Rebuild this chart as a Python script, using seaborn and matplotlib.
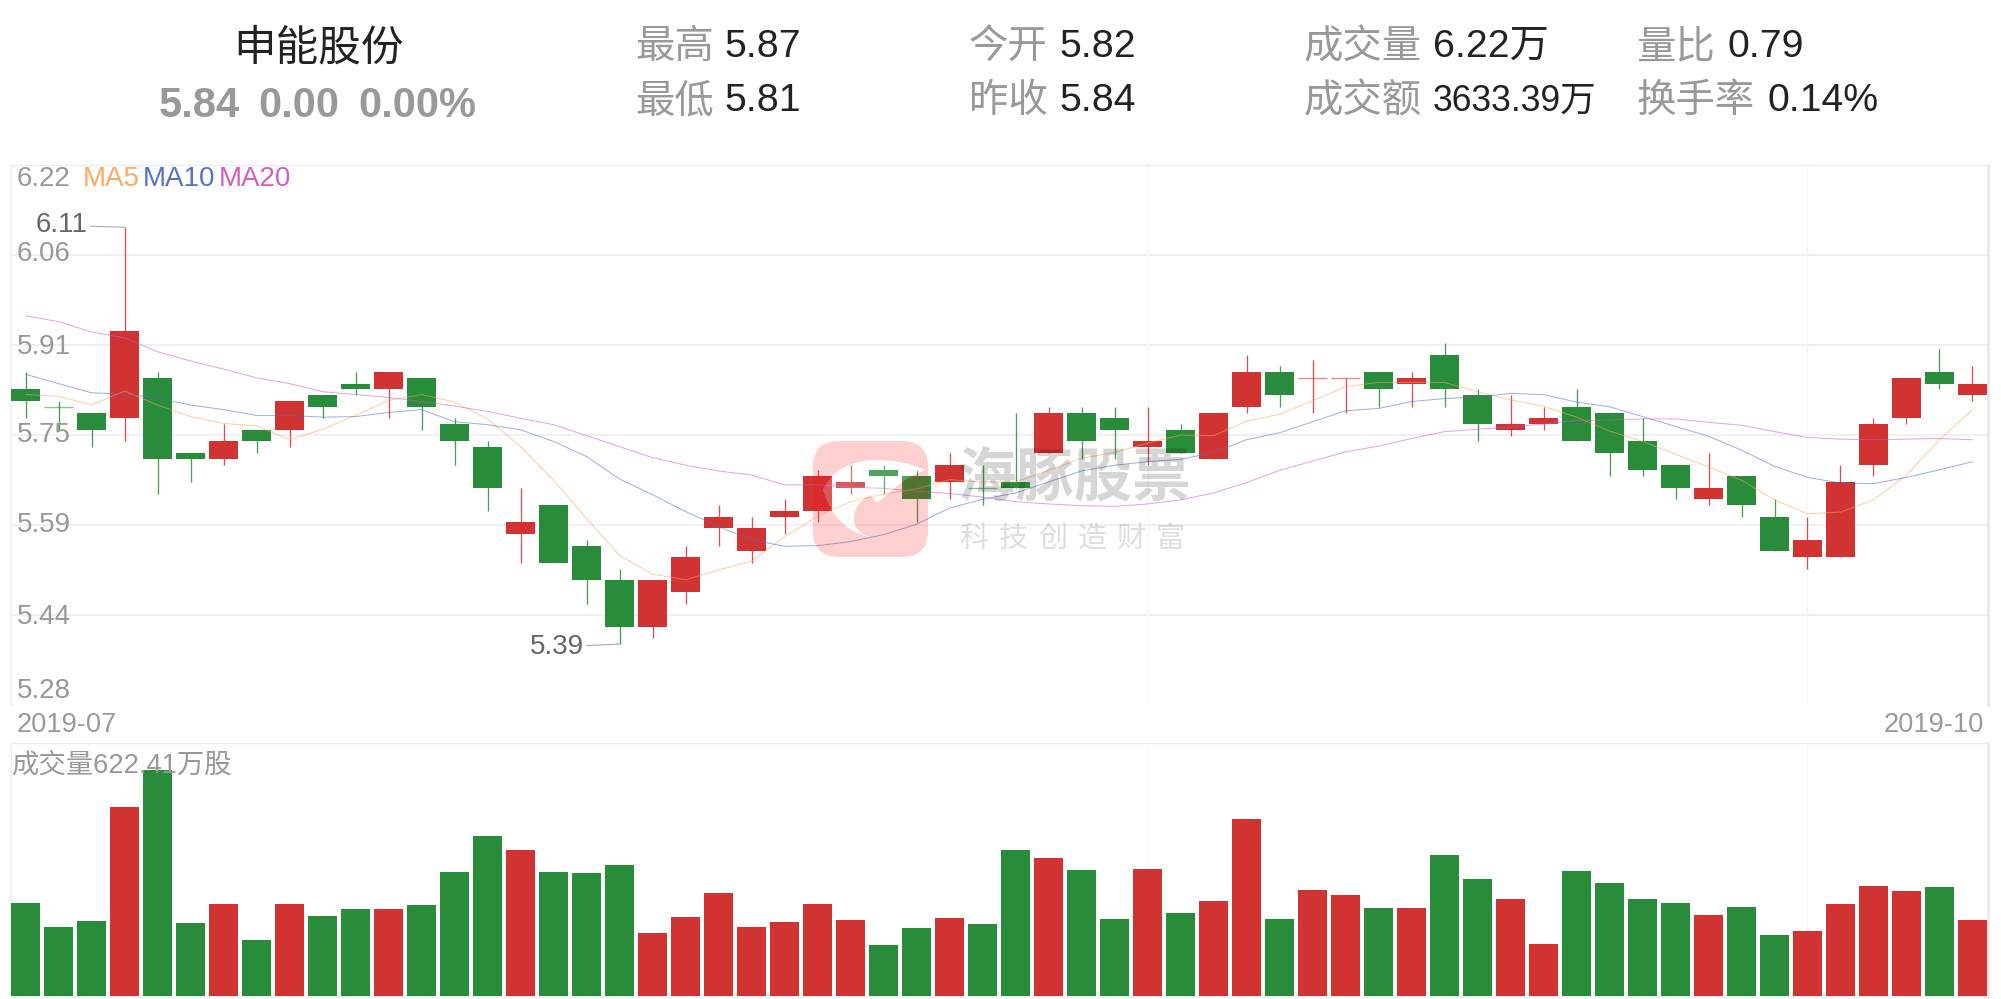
import matplotlib
matplotlib.use("Agg")
import matplotlib.pyplot as plt
import numpy as np
import pandas as pd
import seaborn as sns
from matplotlib.patches import PathPatch
from matplotlib.path import Path
from matplotlib.transforms import Affine2D

# Daily prices, oldest first
opens = [5.83,5.80,5.79,5.78,5.85,5.72,5.71,5.76,5.76,5.82,5.84,5.83,5.85,5.77,5.73,5.58,5.63,5.56,5.50,5.42,
         5.48,5.59,5.55,5.61,5.62,5.66,5.69,5.68,5.67,5.66,5.67,5.72,5.79,5.78,5.73,5.76,5.71,5.80,5.86,5.85,
         5.85,5.86,5.84,5.89,5.82,5.76,5.77,5.80,5.79,5.74,5.70,5.64,5.68,5.61,5.54,5.54,5.70,5.78,5.86,5.82]
closes = [5.81,5.80,5.76,5.93,5.71,5.71,5.74,5.74,5.81,5.80,5.83,5.86,5.80,5.74,5.66,5.60,5.53,5.50,5.42,5.50,
          5.54,5.61,5.59,5.62,5.68,5.67,5.68,5.64,5.70,5.66,5.66,5.79,5.74,5.76,5.74,5.72,5.79,5.86,5.82,5.85,
          5.85,5.83,5.85,5.83,5.77,5.77,5.78,5.74,5.72,5.69,5.66,5.66,5.63,5.55,5.57,5.67,5.77,5.85,5.84,5.84]
highs = [5.86,5.81,5.79,6.11,5.86,5.72,5.77,5.76,5.81,5.82,5.86,5.86,5.85,5.78,5.74,5.66,5.63,5.57,5.52,5.50,
         5.56,5.63,5.61,5.64,5.69,5.70,5.70,5.69,5.72,5.70,5.79,5.80,5.80,5.80,5.80,5.77,5.79,5.89,5.87,5.88,
         5.85,5.86,5.86,5.91,5.83,5.82,5.80,5.83,5.79,5.78,5.70,5.72,5.68,5.64,5.61,5.70,5.78,5.85,5.90,5.87]
lows = [5.78,5.76,5.73,5.74,5.65,5.67,5.70,5.72,5.73,5.78,5.82,5.78,5.76,5.70,5.62,5.53,5.53,5.46,5.39,5.40,
        5.46,5.56,5.53,5.58,5.60,5.65,5.65,5.60,5.64,5.63,5.66,5.72,5.71,5.71,5.70,5.72,5.71,5.79,5.80,5.79,
        5.79,5.80,5.80,5.80,5.74,5.75,5.76,5.74,5.68,5.68,5.64,5.63,5.61,5.55,5.52,5.54,5.68,5.77,5.83,5.81]
rising = [0,0,0,1,0,0,1,0,1,0,0,1,0,0,0,1,0,0,0,1,1,1,1,1,1,1,0,0,1,0,
          0,1,0,0,1,0,1,1,0,1,1,0,1,0,0,1,1,0,0,0,0,1,0,0,1,1,1,1,0,1]

# Moving averages
ma5 = [5.821,5.818,5.803,5.827,5.803,5.783,5.771,5.767,5.743,5.761,5.785,5.811,5.821,5.808,5.779,5.731,5.673,5.607,5.543,5.511,
       5.501,5.518,5.533,5.575,5.611,5.636,5.649,5.658,5.674,5.670,5.670,5.690,5.711,5.721,5.737,5.751,5.750,5.775,5.787,5.810,
       5.835,5.842,5.842,5.842,5.826,5.812,5.801,5.782,5.758,5.740,5.718,5.696,5.673,5.639,5.615,5.618,5.639,5.682,5.743,5.795]
ma10 = [5.856,5.840,5.824,5.822,5.815,5.803,5.795,5.785,5.785,5.782,5.783,5.790,5.795,5.774,5.769,5.760,5.740,5.714,5.675,5.648,
        5.619,5.593,5.570,5.559,5.560,5.567,5.579,5.597,5.625,5.640,5.651,5.670,5.689,5.699,5.705,5.709,5.721,5.743,5.755,5.774,
        5.793,5.797,5.809,5.814,5.817,5.823,5.821,5.808,5.800,5.783,5.766,5.749,5.725,5.697,5.678,5.668,5.667,5.678,5.691,5.705]
ma20 = [5.957,5.947,5.929,5.919,5.895,5.879,5.865,5.850,5.840,5.826,5.821,5.816,5.809,5.801,5.792,5.780,5.769,5.750,5.731,5.712,
        5.699,5.689,5.682,5.665,5.665,5.661,5.659,5.654,5.650,5.644,5.636,5.632,5.629,5.628,5.632,5.639,5.651,5.669,5.690,5.706,
        5.722,5.732,5.745,5.757,5.761,5.765,5.770,5.776,5.777,5.779,5.779,5.773,5.768,5.757,5.747,5.744,5.743,5.744,5.745,5.743]

# Volume in units of 10,000 shares
volumes = [762,565,614,1552,1856,598,754,458,754,655,713,713,746,1017,1313,1198,1017,1009,1075,516,
           647,845,565,606,754,622,417,557,639,590,1198,1132,1034,631,1042,680,779,1453,631,869,
           828,721,721,1157,960,795,425,1026,927,795,762,664,729,499,532,754,902,861,894,622.41]

price_labels = ["6.22", "6.06", "5.91", "5.75", "5.59", "5.44", "5.28"]
price_levels = [6.2176, 6.0616, 5.9061, 5.7512, 5.5951, 5.4397, 5.2847]
price_grid = price_levels[1:-1]
price_label_shift = [-14.5, 1, -2, 0, 0, -2, 13.5]
session_lines = [34, 54]
date_labels = ["2019-07", "2019-10"]
ma_names = ["MA5", "MA10", "MA20"]

stock_name = "申能股份"
quote_items = ["5.84", "0.00", "0.00%"]
summary_labels = ["最高", "最低", "今开", "昨收", "成交量", "成交额", "量比", "换手率"]
summary_values = ["5.87", "5.81", "5.82", "5.84", "6.22万", "3633.39万", "0.79", "0.14%"]
brand_name = "海豚股票"
brand_slogan = "科技创造财富"
volume_caption = "成交量622.41万股"

RED = "#D13232"
GREEN = "#288C3A"
MUTED = "#999999"
INK = "#222222"
GRID = "#EEEEF5"
MA_COLORS = ["#F9A55E", "#4F6FC4", "#CE5CBE"]
LABEL_COLORS = ["#FBAA66", "#5573C2", "#CE60BE"]

W, H = 2001, 999
sns.set_theme(style="white")
plt.rcParams["font.family"] = ["Liberation Sans", "Noto Sans CJK SC"]

fig = plt.figure(figsize=(W / 100, H / 100), dpi=100, facecolor="white")


def axes_box(left, top, right, bottom):
    return [left / W, 1 - bottom / H, (right - left) / W, (bottom - top) / H]


def put(x, y, s, size, color, **kw):
    return fig.text(x / W, 1 - y / H, s, fontsize=size, color=color, va=kw.pop("va", "baseline"), **kw)


ax_price = fig.add_axes(axes_box(11, 165, 1988, 705))
ax_vol = fig.add_axes(axes_box(11, 743.3, 1988, 995.7))

days = np.arange(len(opens))
frame = pd.DataFrame({"day": days, "open": opens, "close": closes, "high": highs, "low": lows,
                      "volume": volumes, "rising": rising, "ma5": ma5, "ma10": ma10, "ma20": ma20})
frame["color"] = np.where(frame["rising"] == 1, RED, GREEN)
BODY = 0.888
x_range = (-0.442, 59.47)

# Price panel
for y in price_grid:
    ax_price.axhline(y, color=GRID, lw=1.3, zorder=1)
for d in session_lines:
    ax_price.axvline(d, color="#F4F4F9", lw=0.9, zorder=1)

ax_price.vlines(frame["day"], frame["low"], frame["high"], colors=frame["color"], lw=0.95, alpha=0.85, zorder=2)
spans = frame["close"] - frame["open"]
solid = spans != 0
ax_price.bar(frame.loc[solid, "day"], spans[solid].abs(), bottom=frame.loc[solid, ["open", "close"]].min(axis=1),
             width=BODY, color=frame.loc[solid, "color"], linewidth=0, zorder=3)
flat = frame[~solid]
ax_price.hlines(flat["close"], flat["day"] - BODY / 2, flat["day"] + BODY / 2, colors=flat["color"], lw=1.0, alpha=0.55, zorder=3)

for name, color in zip(["ma5", "ma10", "ma20"], MA_COLORS):
    sns.lineplot(data=frame, x="day", y=name, color=color, lw=0.72, alpha=0.55, ax=ax_price, zorder=4, errorbar=None)

ax_price.set_xlim(*x_range)
ax_price.set_ylim(price_levels[-1], price_levels[0])
ax_price.set_xticks([])
ax_price.set_yticks([])
ax_price.set_xlabel("")
ax_price.set_ylabel("")

for text, level, shift in zip(price_labels, price_levels, price_label_shift):
    ax_price.annotate(text, xy=(0, level), xycoords=("axes fraction", "data"),
                      xytext=(6, shift), textcoords="offset pixels", fontsize=20, color=MUTED,
                      va="center", ha="left", zorder=6, annotation_clip=False)

for x, name, color in zip([83, 143, 218.3], ma_names, LABEL_COLORS):
    put(x, 179, name, 20, color, va="center")

# Extreme price callouts
high_day = int(np.argmax(highs))
low_day = int(np.argmin(lows))
ax_price.annotate(f"{highs[high_day]:.2f}", xy=(high_day, highs[high_day]), xytext=(-37, 2),
                  textcoords="offset pixels", fontsize=20, color="#666666", ha="right", va="center",
                  arrowprops=dict(arrowstyle="-", color="#AAAAAA", lw=0.8, shrinkA=0, shrinkB=0), zorder=6)
ax_price.annotate(f"{lows[low_day]:.2f}", xy=(low_day, lows[low_day]), xytext=(-36, -3),
                  textcoords="offset pixels", fontsize=20, color="#666666", ha="right", va="center",
                  arrowprops=dict(arrowstyle="-", color="#AAAAAA", lw=0.8, shrinkA=0, shrinkB=0), zorder=6)

# Volume panel
for d in session_lines:
    ax_vol.axvline(d, color="#F4F4F9", lw=0.9, zorder=1)
sns.barplot(data=frame, x="day", y="volume", hue="color", palette={RED: RED, GREEN: GREEN}, hue_order=[RED, GREEN],
            native_scale=True, dodge=False, width=BODY, linewidth=0, saturation=1, legend=False, ax=ax_vol, zorder=3)
ax_vol.set_xlim(*x_range)
ax_vol.set_ylim(0, 2076)
ax_vol.set_xticks([])
ax_vol.set_yticks([])
ax_vol.set_xlabel("")
ax_vol.set_ylabel("")

for ax in (ax_price, ax_vol):
    for side in ("top", "left", "bottom"):
        ax.spines[side].set_color("#ECECF5")
        ax.spines[side].set_linewidth(1.0)
    ax.spines["right"].set_color("#E4E6F3")
    ax.spines["right"].set_linewidth(1.8)
ax_price.spines["bottom"].set_visible(False)

put(11.5, 765.5, volume_caption, 19.7, MUTED, va="center", zorder=7)
put(17, 725.5, date_labels[0], 19.6, MUTED, va="center")
put(1984, 725.5, date_labels[1], 19.6, MUTED, va="center", ha="right")

# Quote header
put(318, 50, stock_name, 30.7, INK, va="center", ha="center")
for x, item in zip([158.5, 258.5, 358], quote_items):
    put(x, 117, item, 30, MUTED, fontweight="bold")

label_x = [635.5, 635.5, 969, 969, 1304, 1304, 1636.5, 1636.5]
value_x = [724.5, 724.5, 1059, 1059, 1433, 1433, 1727, 1767]
rows = [57, 111] * 4
for lx, vx, y, label, value in zip(label_x, value_x, rows, summary_labels, summary_values):
    put(lx, y + 1, label, 28.4, MUTED)
    put(vx, y, value, 25.6 if value.startswith("3633") else 28.3, INK)

# Brand watermark above the plots
to_display = Affine2D().scale(1, -1).translate(0, H)
x0, x1, y0, y1, r = 813, 928, 441, 557, 26
badge_pts = [(x0 + r, y0), (x1 - r, y0), (x1, y0), (x1, y0 + r), (x1, y1 - r), (x1, y1), (x1 - r, y1),
             (x0 + r, y1), (x0, y1), (x0, y1 - r), (x0, y0 + r), (x0, y0), (x0 + r, y0)]
badge_ops = [Path.MOVETO, Path.LINETO, Path.CURVE3, Path.CURVE3, Path.LINETO, Path.CURVE3, Path.CURVE3,
             Path.LINETO, Path.CURVE3, Path.CURVE3, Path.LINETO, Path.CURVE3, Path.CURVE3]
fin_pts = [(823, 490), (835, 462), (874, 460), (905, 460), (925, 470), (905, 478), (895, 488), (877, 503), (870, 495),
           (852, 505), (854, 522), (856, 533), (872, 538), (835, 530), (823, 490)]
fin_ops = [Path.MOVETO, Path.CURVE3, Path.CURVE3, Path.CURVE3, Path.CURVE3, Path.CURVE3, Path.CURVE3, Path.LINETO,
           Path.LINETO, Path.CURVE3, Path.CURVE3, Path.CURVE3, Path.CURVE3, Path.CURVE3, Path.CURVE3]
# Counter-wound inner contour so the fin stays unfilled
hole_pts = fin_pts[::-1]
hole_ops = [Path.MOVETO] + fin_ops[:0:-1]
fig.add_artist(PathPatch(Path(badge_pts + hole_pts, badge_ops + hole_ops), facecolor=(1, 0.08, 0.08), alpha=0.2,
                         edgecolor="none", transform=to_display, zorder=5))
fig.add_artist(PathPatch(Path(fin_pts, fin_ops), facecolor="white", alpha=0.2, edgecolor="none",
                         transform=to_display, zorder=5))
put(958, 497, brand_name, 42, "black", alpha=0.16, fontweight="bold", zorder=6)
for i, ch in enumerate(brand_slogan):
    put(959.5 + 39.3 * i, 547, ch, 21, "black", alpha=0.13, zorder=6)

fig.savefig("out.png", dpi=100, facecolor="white")
